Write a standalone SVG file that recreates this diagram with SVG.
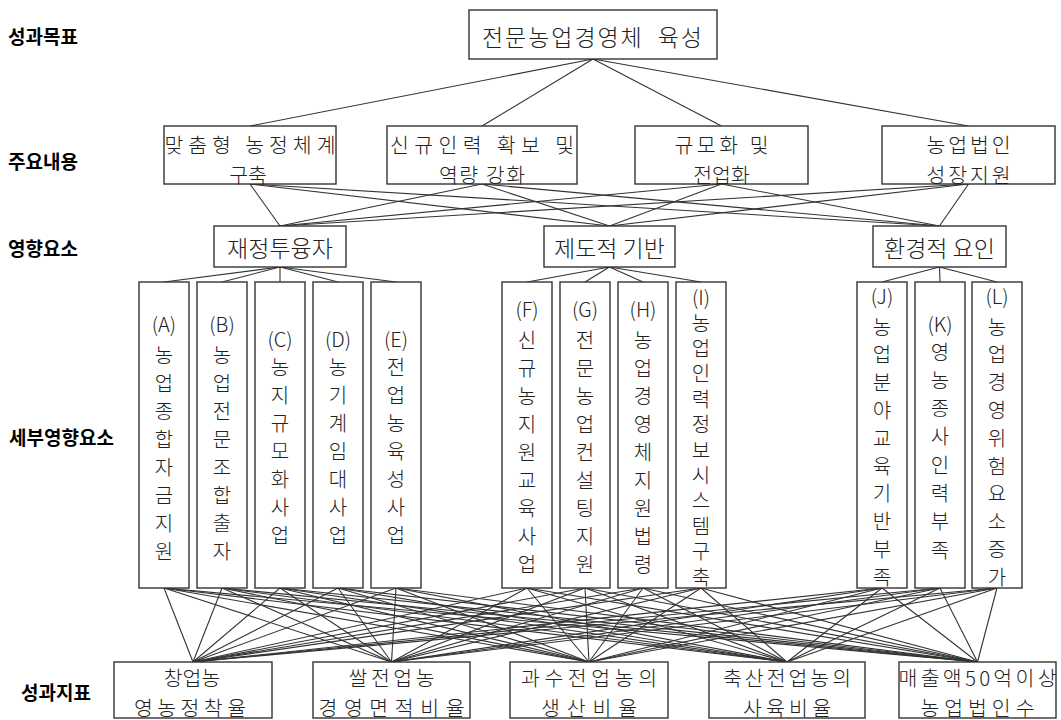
<svg xmlns="http://www.w3.org/2000/svg" width="1061" height="720" viewBox="0 0 1061 720">
<style>
.bx{fill:#fff;stroke:#333;stroke-width:1.4}
.t{font-family:"Noto Sans CJK KR","Noto Sans",sans-serif;font-size:23px;fill:#222;text-anchor:middle;font-weight:300}
.t2{font-family:"Noto Sans CJK KR","Noto Sans",sans-serif;font-size:20.5px;fill:#222;text-anchor:middle;font-weight:300}
.p{font-family:"Noto Sans CJK KR","Noto Sans",sans-serif;font-size:20px;fill:#222;text-anchor:middle;font-weight:300}
.v{font-family:"Noto Sans CJK KR","Noto Sans",sans-serif;font-size:20px;fill:#222;font-weight:300;writing-mode:vertical-rl;letter-spacing:8px}
.lb{font-family:"Noto Sans CJK KR","Noto Sans",sans-serif;font-size:19px;font-weight:bold;fill:#000}
.c line{stroke:#333;stroke-width:1.1}
</style>
<rect width="1061" height="720" fill="#fff"/>
<g id="labels">
<text class="lb" x="8" y="44">성과목표</text>
<text class="lb" x="8" y="169">주요내용</text>
<text class="lb" x="8" y="256">영향요소</text>
<text class="lb" x="9" y="445">세부영향요소</text>
<text class="lb" x="21" y="700">성과지표</text>
</g>
<g class="c" id="connectors">
<line x1="593" y1="59" x2="250" y2="126"/>
<line x1="593" y1="59" x2="482" y2="126"/>
<line x1="593" y1="59" x2="721.5" y2="126"/>
<line x1="593" y1="59" x2="968.5" y2="126"/>
<line x1="250" y1="184" x2="280" y2="226"/>
<line x1="250" y1="184" x2="609.5" y2="226"/>
<line x1="250" y1="184" x2="939.5" y2="226"/>
<line x1="482" y1="184" x2="280" y2="226"/>
<line x1="482" y1="184" x2="609.5" y2="226"/>
<line x1="482" y1="184" x2="939.5" y2="226"/>
<line x1="721.5" y1="184" x2="280" y2="226"/>
<line x1="721.5" y1="184" x2="609.5" y2="226"/>
<line x1="721.5" y1="184" x2="939.5" y2="226"/>
<line x1="968.5" y1="184" x2="280" y2="226"/>
<line x1="968.5" y1="184" x2="609.5" y2="226"/>
<line x1="968.5" y1="184" x2="939.5" y2="226"/>
<line x1="280" y1="267" x2="164" y2="282"/>
<line x1="280" y1="267" x2="222" y2="282"/>
<line x1="280" y1="267" x2="280" y2="282"/>
<line x1="280" y1="267" x2="338" y2="282"/>
<line x1="280" y1="267" x2="396" y2="282"/>
<line x1="609.5" y1="267" x2="527" y2="282"/>
<line x1="609.5" y1="267" x2="585" y2="282"/>
<line x1="609.5" y1="267" x2="643" y2="282"/>
<line x1="609.5" y1="267" x2="701" y2="282"/>
<line x1="939.5" y1="267" x2="882" y2="282"/>
<line x1="939.5" y1="267" x2="940" y2="282"/>
<line x1="939.5" y1="267" x2="997" y2="282"/>
<g id="l45">
<line x1="164" y1="588" x2="193" y2="662"/><line x1="164" y1="588" x2="391.5" y2="662"/><line x1="164" y1="588" x2="589" y2="662"/><line x1="164" y1="588" x2="787" y2="662"/><line x1="164" y1="588" x2="977.5" y2="662"/>
<line x1="222" y1="588" x2="193" y2="662"/><line x1="222" y1="588" x2="391.5" y2="662"/><line x1="222" y1="588" x2="589" y2="662"/><line x1="222" y1="588" x2="787" y2="662"/><line x1="222" y1="588" x2="977.5" y2="662"/>
<line x1="280" y1="588" x2="193" y2="662"/><line x1="280" y1="588" x2="391.5" y2="662"/><line x1="280" y1="588" x2="589" y2="662"/><line x1="280" y1="588" x2="787" y2="662"/><line x1="280" y1="588" x2="977.5" y2="662"/>
<line x1="338" y1="588" x2="193" y2="662"/><line x1="338" y1="588" x2="391.5" y2="662"/><line x1="338" y1="588" x2="589" y2="662"/><line x1="338" y1="588" x2="787" y2="662"/><line x1="338" y1="588" x2="977.5" y2="662"/>
<line x1="396" y1="588" x2="193" y2="662"/><line x1="396" y1="588" x2="391.5" y2="662"/><line x1="396" y1="588" x2="589" y2="662"/><line x1="396" y1="588" x2="787" y2="662"/><line x1="396" y1="588" x2="977.5" y2="662"/>
<line x1="527" y1="588" x2="193" y2="662"/><line x1="527" y1="588" x2="391.5" y2="662"/><line x1="527" y1="588" x2="589" y2="662"/><line x1="527" y1="588" x2="787" y2="662"/><line x1="527" y1="588" x2="977.5" y2="662"/>
<line x1="585" y1="588" x2="193" y2="662"/><line x1="585" y1="588" x2="391.5" y2="662"/><line x1="585" y1="588" x2="589" y2="662"/><line x1="585" y1="588" x2="787" y2="662"/><line x1="585" y1="588" x2="977.5" y2="662"/>
<line x1="643" y1="588" x2="193" y2="662"/><line x1="643" y1="588" x2="391.5" y2="662"/><line x1="643" y1="588" x2="589" y2="662"/><line x1="643" y1="588" x2="787" y2="662"/><line x1="643" y1="588" x2="977.5" y2="662"/>
<line x1="701" y1="588" x2="193" y2="662"/><line x1="701" y1="588" x2="391.5" y2="662"/><line x1="701" y1="588" x2="589" y2="662"/><line x1="701" y1="588" x2="787" y2="662"/><line x1="701" y1="588" x2="977.5" y2="662"/>
<line x1="882" y1="588" x2="193" y2="662"/><line x1="882" y1="588" x2="391.5" y2="662"/><line x1="882" y1="588" x2="589" y2="662"/><line x1="882" y1="588" x2="787" y2="662"/><line x1="882" y1="588" x2="977.5" y2="662"/>
<line x1="940" y1="588" x2="193" y2="662"/><line x1="940" y1="588" x2="391.5" y2="662"/><line x1="940" y1="588" x2="589" y2="662"/><line x1="940" y1="588" x2="787" y2="662"/><line x1="940" y1="588" x2="977.5" y2="662"/>
<line x1="997" y1="588" x2="193" y2="662"/><line x1="997" y1="588" x2="391.5" y2="662"/><line x1="997" y1="588" x2="589" y2="662"/><line x1="997" y1="588" x2="787" y2="662"/><line x1="997" y1="588" x2="977.5" y2="662"/>
</g>
</g>
<g id="goal"><rect class="bx" x="469" y="10" width="248" height="49"/><text class="t" x="592" y="46" xml:space="preserve" textLength="220">전문농업경영체  육성</text></g>
<g id="m1"><rect class="bx" x="164" y="126" width="172" height="58"/><text class="t2" x="250" y="153" textLength="171">맞춤형 농정체계</text><text class="t2" x="248" y="183">구축</text></g>
<g id="m2"><rect class="bx" x="387" y="126" width="190" height="58"/><text class="t2" x="482" y="153" textLength="184">신규인력 확보 및</text><text class="t2" x="482" y="183" textLength="86">역량 강화</text></g>
<g id="m3"><rect class="bx" x="635" y="126" width="173" height="58"/><text class="t2" x="721.5" y="153" textLength="94">규모화 및</text><text class="t2" x="721.5" y="183">전업화</text></g>
<g id="m4"><rect class="bx" x="882" y="126" width="173" height="58"/><text class="t2" x="968.5" y="153" textLength="84">농업법인</text><text class="t2" x="968.5" y="183" textLength="84">성장지원</text></g>
<g id="f1"><rect class="bx" x="214" y="226" width="132" height="41"/><text class="t" x="280" y="257">재정투융자</text></g>
<g id="f2"><rect class="bx" x="544" y="226" width="131" height="41"/><text class="t" x="609.5" y="257">제도적 기반</text></g>
<g id="f3"><rect class="bx" x="873" y="226" width="133" height="41"/><text class="t" x="939.5" y="257">환경적 요인</text></g>
<g id="dA"><rect class="bx" x="139" y="282" width="50" height="306"/><text class="p" x="164" y="332">(A)</text><text class="v" x="164" y="345">농업종합자금지원</text></g>
<g id="dB"><rect class="bx" x="197" y="282" width="50" height="306"/><text class="p" x="222" y="332">(B)</text><text class="v" x="222" y="345">농업전문조합출자</text></g>
<g id="dC"><rect class="bx" x="255" y="282" width="50" height="306"/><text class="p" x="280" y="347">(C)</text><text class="v" x="280" y="357">농지규모화사업</text></g>
<g id="dD"><rect class="bx" x="313" y="282" width="50" height="306"/><text class="p" x="338" y="347">(D)</text><text class="v" x="338" y="357">농기계임대사업</text></g>
<g id="dE"><rect class="bx" x="371" y="282" width="50" height="306"/><text class="p" x="396" y="347">(E)</text><text class="v" x="396" y="357">전업농육성사업</text></g>
<g id="dF"><rect class="bx" x="502" y="282" width="50" height="306"/><text class="p" x="527" y="317">(F)</text><text class="v" x="527" y="330">신규농지원교육사업</text></g>
<g id="dG"><rect class="bx" x="560" y="282" width="50" height="306"/><text class="p" x="585" y="317">(G)</text><text class="v" x="585" y="330">전문농업컨설팅지원</text></g>
<g id="dH"><rect class="bx" x="618" y="282" width="50" height="306"/><text class="p" x="643" y="317">(H)</text><text class="v" x="643" y="330">농업경영체지원법령</text></g>
<g id="dI"><rect class="bx" x="676" y="282" width="50" height="306"/><text class="p" x="701" y="305">(I)</text><text class="v" x="701" y="313" style="letter-spacing:5.4px">농업인력정보시스템구축</text></g>
<g id="dJ"><rect class="bx" x="857" y="282" width="50" height="306"/><text class="p" x="882" y="304">(J)</text><text class="v" x="882" y="317" style="letter-spacing:7.8px">농업분야교육기반부족</text></g>
<g id="dK"><rect class="bx" x="915" y="282" width="50" height="306"/><text class="p" x="940" y="332">(K)</text><text class="v" x="940" y="342" style="letter-spacing:8.3px">영농종사인력부족</text></g>
<g id="dL"><rect class="bx" x="972" y="282" width="50" height="306"/><text class="p" x="997" y="304">(L)</text><text class="v" x="997" y="317" style="letter-spacing:7.8px">농업경영위험요소증가</text></g>
<g id="k1"><rect class="bx" x="114" y="662" width="158" height="56"/><text class="t2" x="192" y="686">창업농</text><text class="t2" x="190" y="716" textLength="112">영농정착율</text></g>
<g id="k2"><rect class="bx" x="313" y="662" width="157" height="56"/><text class="t2" x="391.5" y="686" textLength="86">쌀전업농</text><text class="t2" x="391.5" y="716" textLength="146">경영면적비율</text></g>
<g id="k3"><rect class="bx" x="510" y="662" width="158" height="56"/><text class="t2" x="589" y="686" textLength="136">과수전업농의</text><text class="t2" x="589" y="716" textLength="96">생산비율</text></g>
<g id="k4"><rect class="bx" x="709" y="662" width="156" height="56"/><text class="t2" x="787" y="686" textLength="128">축산전업농의</text><text class="t2" x="787" y="716" textLength="88">사육비율</text></g>
<g id="k5"><rect class="bx" x="899" y="662" width="157" height="56"/><text class="t2" x="977.5" y="686" textLength="158">매출액50억이상</text><text class="t2" x="977.5" y="716" textLength="114">농업법인수</text></g>
</svg>
